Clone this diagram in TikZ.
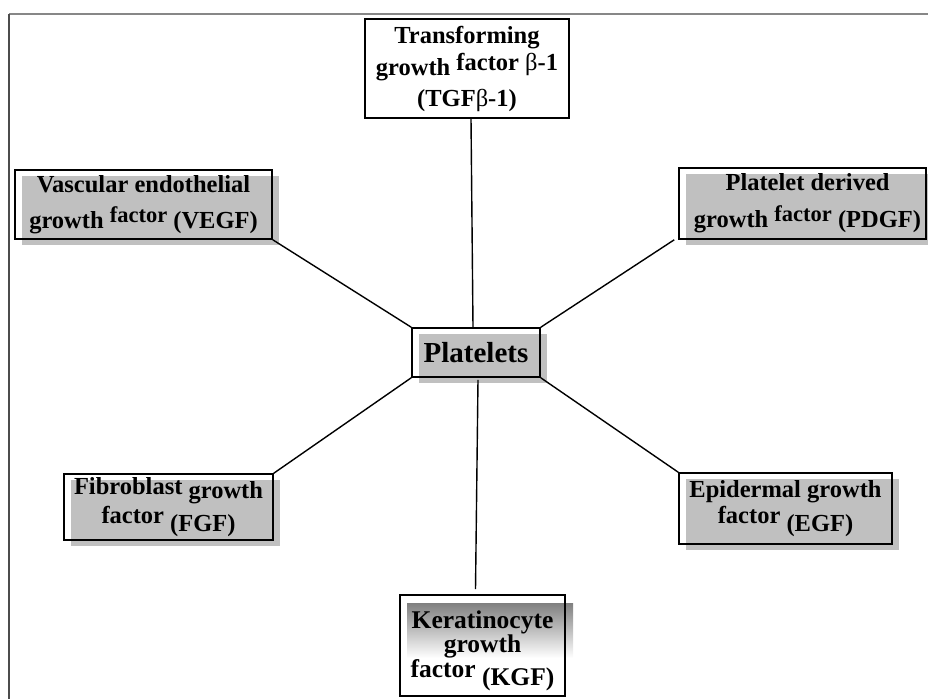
\documentclass[tikz,border=0pt]{standalone}
\usepackage{fontspec}
\setmainfont{Liberation Serif}
\usetikzlibrary{calc,shadows}
\definecolor{shade}{RGB}{192,192,192}
\definecolor{framegray}{RGB}{135,135,135}
\newcommand{\rup}[1]{\raisebox{6pt}{\fontsize{22.5}{24}\selectfont #1}}
\newcommand{\rdown}[1]{\raisebox{-8pt}{#1}}
\tikzset{
  lbl/.style={font=\fontsize{24.5}{29}\selectfont\bfseries},
  boxframe/.style={draw=black, line width=1.6pt, inner sep=0pt, align=center, lbl},
  shadowed/.style={drop shadow={shadow xshift=7pt, shadow yshift=-6pt, fill=shade, opacity=1, draw=none}},
  conn/.style={line width=1.4pt, draw=black},
  pagelinetop/.style={draw=framegray, line width=2pt},
  pagelineleft/.style={draw=black!70, line width=1.6pt},
}
\begin{document}
\begin{tikzpicture}[x=1pt,y=-1pt]
\useasboundingbox (0,0) rectangle (928,699);
% page frame
\draw[pagelinetop] (9,14) -- (928,14);
\draw[pagelineleft] (9,14) -- (9,699);
% partial shading of KGF box
\fill[shade] (407,603) rectangle (573,658);
% boxes
\node[boxframe, minimum width=204pt, minimum height=99pt] (tgf) at (467,68.5)
  {Transforming\\[3pt] growth \raisebox{5pt}{factor {\mdseries β}-1}\\[2pt] (TGF{\mdseries β}-1)};
\node[boxframe, shadowed, minimum width=257pt, minimum height=69pt] (vegf) at (143.5,204.5)
  {Vascular endothelial\\[7pt] growth \rup{factor} (VEGF)};
\node[boxframe, shadowed, minimum width=247pt, minimum height=71pt] (pdgf) at (802.5,203.5)
  {\hspace*{10pt}Platelet derived\\[8pt] \hspace*{10pt}growth \rup{factor} (PDGF)};
\node[boxframe, shadowed, minimum width=128pt, minimum height=49pt, font=\fontsize{29}{34}\selectfont\bfseries] (plt) at (476,352.5)
  {Platelets};
\node[boxframe, shadowed, minimum width=209pt, minimum height=66pt] (fgf) at (168.5,507)
  {Fibroblast \raisebox{-4pt}{growth}\\[0pt] factor \rdown{(FGF)}};
\node[boxframe, shadowed, minimum width=213pt, minimum height=71pt] (egf) at (785.5,508.5)
  {Epidermal growth\\[-3pt] factor \rdown{(EGF)}};
\node[boxframe, minimum width=165pt, minimum height=101pt, font=\fontsize{25.5}{24}\selectfont\bfseries] (kgf) at (482.5,645.5)
  {\rule{0pt}{28pt}Keratinocyte\\ growth\\[1pt] factor \rdown{(KGF)}};
% connectors
\draw[conn] ($(tgf.south)+(4,0)$) -- ($(plt.north)+(-3,0)$);
\draw[conn] (vegf.south east) -- (plt.north west);
\draw[conn] ($(pdgf.south west)+(-4,0)$) -- (plt.north east);
\draw[conn] (fgf.north east) -- (plt.south west);
\draw[conn] (egf.north west) -- (plt.south east);
\draw[conn] ($(plt.south)+(2,2)$) -- ($(kgf.north)+(-7,-5)$);
\end{tikzpicture}
\end{document}
